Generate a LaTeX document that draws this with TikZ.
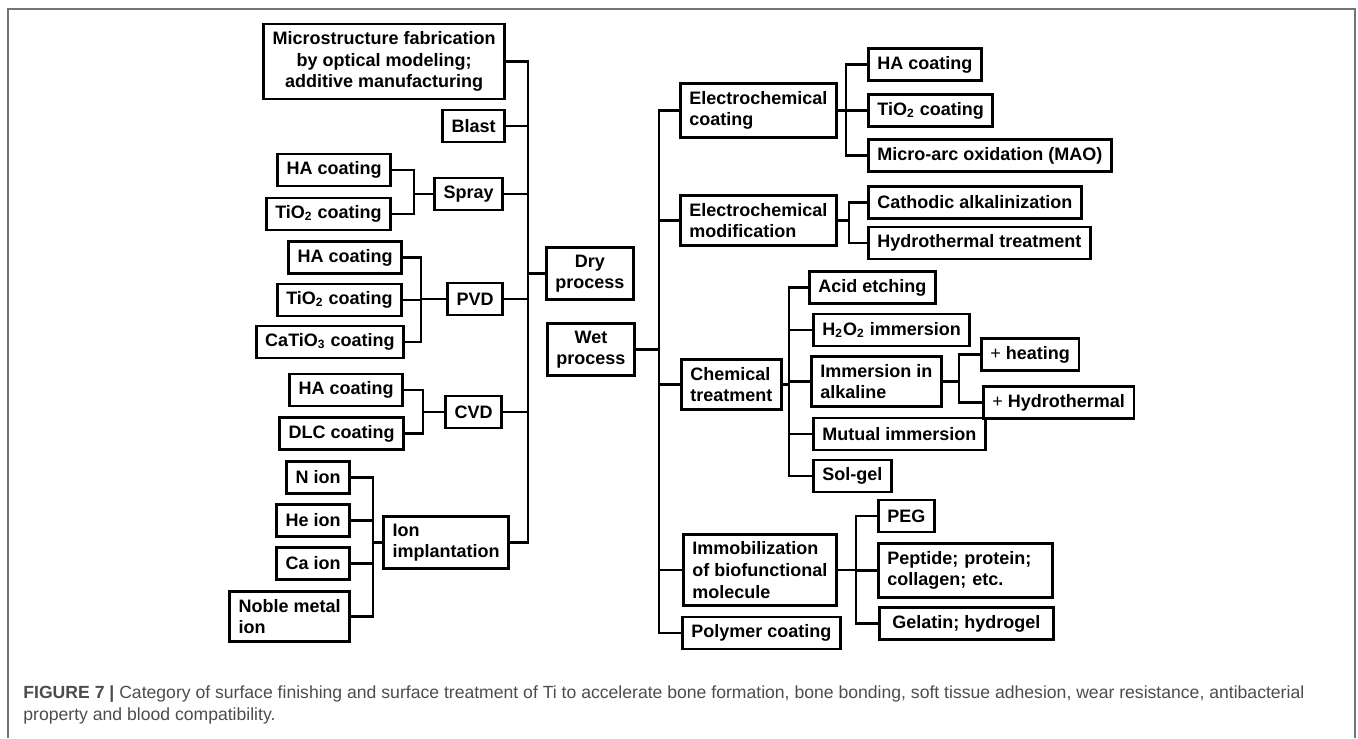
\documentclass[tikz,border=0pt]{standalone}
\usepackage{fontspec}
\setmainfont{Liberation Sans}

\definecolor{framegray}{gray}{0.45}
\definecolor{captext}{gray}{0.3}

\begin{document}
\begin{tikzpicture}[x=0.5pt, y=-0.5pt,
    box/.style={draw, line width=1.4pt, font=\bfseries\fontsize{9}{10.8}\selectfont,
      inner xsep=4.5pt, inner ysep=3.7pt, minimum height=16pt},
    link/.style={line width=1.2pt},
    frame/.style={draw=framegray, line width=0.9pt}]
      \useasboundingbox (0,0) rectangle (1358,738);

      % Frame
      \draw[frame] (8,738) -- (8,9) -- (1355,9) -- (1355,738);

      % Coordinates for the trunks and brackets
      \coordinate (trunkL) at (528,0);
      \coordinate (trunkR) at (659,0);
      \coordinate (spx) at (414,0);
      \coordinate (pvx) at (421,0);
      \coordinate (cvx) at (423,0);
      \coordinate (inx) at (373,0);
      \coordinate (ecx) at (846,0);
      \coordinate (emx) at (849,0);
      \coordinate (chx) at (789,0);
      \coordinate (alx) at (959,0);
      \coordinate (imx) at (856,0);

      % Dry process side
      \node[box, align=center, anchor=east] (micro) at (506,61.5)
        {Microstructure fabrication\\by optical modeling;\\additive manufacturing};
      \node[box, anchor=east] (blast) at (506,126) {Blast};
      \node[box, anchor=east] (spray) at (504,194) {Spray};
      \node[box, anchor=east] (haspray) at (392,170) {HA coating};
      \node[box, anchor=east] (tispray) at (392,214) {TiO\textsubscript{2} coating};
      \node[box, align=center, anchor=west] (dry) at (545,273.5) {Dry\\process};
      \node[box, anchor=east] (pvd) at (504,299) {PVD};
      \node[box, anchor=east] (hapvd) at (403,257.5) {HA coating};
      \node[box, anchor=east] (tipvd) at (403,300) {TiO\textsubscript{2} coating};
      \node[box, anchor=east] (capvd) at (405,342) {CaTiO\textsubscript{3} coating};
      \node[box, align=center, anchor=west] (wet) at (546,349.5) {Wet\\process};
      \node[box, anchor=east] (cvd) at (503,412) {CVD};
      \node[box, anchor=east] (hacvd) at (404,390) {HA coating};
      \node[box, anchor=east] (dlccvd) at (405,433.5) {DLC coating};
      \node[box, anchor=east] (nion) at (351,477.5) {N ion};
      \node[box, anchor=east] (heion) at (351,520.5) {He ion};
      \node[box, anchor=east] (caion) at (351,563.5) {Ca ion};
      \node[box, align=left, anchor=east] (noble) at (351,616.5) {Noble metal\\ion};
      \node[box, align=left, anchor=east] (ion) at (510,542.5) {Ion\\implantation};

      % Wet process side
      \node[box, align=left, anchor=west] (ecoat) at (679,110.5) {Electrochemical\\coating};
      \node[box, anchor=west] (hac) at (867,64.5) {HA coating};
      \node[box, anchor=west] (tic) at (867,110.5) {TiO\textsubscript{2} coating};
      \node[box, anchor=west] (mao) at (867,155.5) {Micro-arc oxidation (MAO)};
      \node[box, align=left, anchor=west] (emod) at (679,220.5) {Electrochemical\\modification};
      \node[box, anchor=west] (cath) at (867,202.5) {Cathodic alkalinization};
      \node[box, anchor=west] (hydro) at (867,243) {Hydrothermal treatment};
      \node[box, align=left, anchor=west] (chem) at (680,384.5) {Chemical\\treatment};
      \node[box, anchor=west] (acid) at (808,287.5) {Acid etching};
      \node[box, anchor=west] (hoo) at (812,330) {H\textsubscript{2}O\textsubscript{2} immersion};
      \node[box, align=left, anchor=west] (alk) at (810,381.5) {Immersion in\\alkaline};
      \node[box, anchor=west] (heat) at (980,354.5) {{\mdseries +} heating};
      \node[box, anchor=west] (hyd) at (982,402.5) {{\mdseries +} Hydrothermal};
      \node[box, anchor=west] (mutual) at (812,434) {Mutual immersion};
      \node[box, anchor=west] (solgel) at (812,476) {Sol-gel};
      \node[box, anchor=west] (peg) at (877,516) {PEG};
      \node[box, align=left, anchor=west] (imm) at (682,570)
        {Immobilization\\of biofunctional\\molecule};
      \node[box, align=left, text width=78pt, anchor=west] (pep) at (877,570.5)
        {Peptide; protein;\\collagen; etc.};
      \node[box, minimum width=87pt, anchor=west] (gel) at (878,623.5) {Gelatin; hydrogel};
      \node[box, anchor=west] (poly) at (681,633) {Polymer coating};

      % Left trunk
      \draw[link] (micro.east) -| (ion.east -| trunkL) -- (ion.east);
      \draw[link] (blast.east) -- (blast.east -| trunkL);
      \draw[link] (spray.east) -- (spray.east -| trunkL);
      \draw[link] (pvd.east) -- (pvd.east -| trunkL);
      \draw[link] (cvd.east) -- (cvd.east -| trunkL);
      \draw[link] (dry.west) -- (dry.west -| trunkL);

      % Left brackets
      \draw[link] (haspray.east) -| (tispray.east -| spx) -- (tispray.east);
      \draw[link] (spray.west) -- (spray.west -| spx);
      \draw[link] (hapvd.east) -| (capvd.east -| pvx) -- (capvd.east);
      \draw[link] (tipvd.east) -- (tipvd.east -| pvx);
      \draw[link] (pvd.west) -- (pvd.west -| pvx);
      \draw[link] (hacvd.east) -| (dlccvd.east -| cvx) -- (dlccvd.east);
      \draw[link] (cvd.west) -- (cvd.west -| cvx);
      \draw[link] (nion.east) -| (noble.east -| inx) -- (noble.east);
      \draw[link] (heion.east) -- (heion.east -| inx);
      \draw[link] (caion.east) -- (caion.east -| inx);
      \draw[link] (ion.west) -- (ion.west -| inx);

      % Right trunk
      \draw[link] (ecoat.west) -| (poly.west -| trunkR) -- (poly.west);
      \draw[link] (emod.west) -- (emod.west -| trunkR);
      \draw[link] (chem.west) -- (chem.west -| trunkR);
      \draw[link] (imm.west) -- (imm.west -| trunkR);
      \draw[link] (wet.east) -- (wet.east -| trunkR);

      % Right brackets
      \draw[link] (hac.west) -| (mao.west -| ecx) -- (mao.west);
      \draw[link] (ecoat.east) -- (tic.west);
      \draw[link] (cath.west) -| (hydro.west -| emx) -- (hydro.west);
      \draw[link] (emod.east) -- (emod.east -| emx);
      \draw[link] (acid.west) -| (solgel.west -| chx) -- (solgel.west);
      \draw[link] (chem.east) -- (chem.east -| chx);
      \draw[link] (hoo.west) -- (hoo.west -| chx);
      \draw[link] (alk.west) -- (alk.west -| chx);
      \draw[link] (mutual.west) -- (mutual.west -| chx);
      \draw[link] (heat.west) -| (hyd.west -| alx) -- (hyd.west);
      \draw[link] (alk.east) -- (alk.east -| alx);
      \draw[link] (peg.west) -| (gel.west -| imx) -- (gel.west);
      \draw[link] (imm.east) -- (imm.east -| imx);
      \draw[link] (pep.west) -- (pep.west -| imx);

      % Caption
      \node[align=left, inner sep=0pt, anchor=north west, text=captext,
        font=\fontsize{8.8}{11}\selectfont] (caption) at (23,685)
        {\textbf{FIGURE 7 |} Category of surface finishing and surface treatment of Ti to accelerate bone formation, bone bonding, soft tissue adhesion, wear resistance, antibacterial\\property and blood compatibility.};
  \end{tikzpicture}
\end{document}
